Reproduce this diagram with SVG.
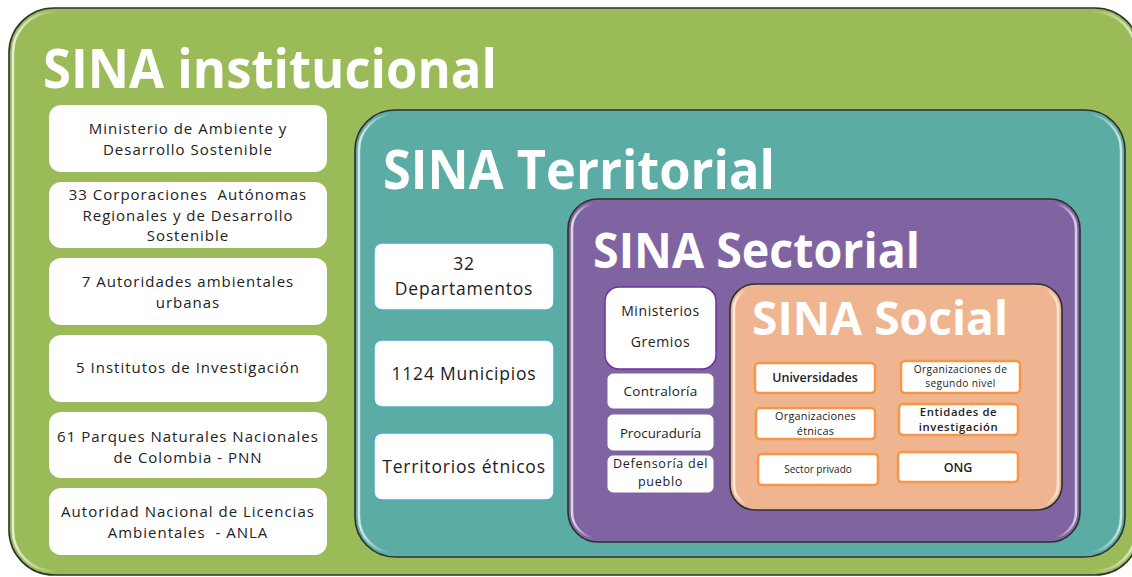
<svg xmlns="http://www.w3.org/2000/svg" width="1132" height="577" viewBox="0 0 1132 577">
<style>
.frame{stroke:#2f2f2f;stroke-width:1.6}
.gloss{fill:none;stroke:url(#gl);stroke-width:2.5}
.title{font-family:"Open Sans","Liberation Sans",sans-serif;font-weight:700;fill:#ffffff}
.t{font-family:"Open Sans","Liberation Sans",sans-serif;fill:#222222;text-anchor:middle}
.li{font-size:15px;letter-spacing:1px}
.lt{font-size:17.5px;letter-spacing:0.8px}
.wb{fill:#ffffff}
.tb{fill:#ffffff;stroke:#4bacc6;stroke-width:1.5}
.pb{fill:#ffffff;stroke:#7030a0;stroke-width:1.5}
.sb{fill:#ffffff;stroke:#ffffff;stroke-width:1}
.ob{fill:#ffffff;stroke:#f79646;stroke-width:2.5}
.sb600{font-weight:600}
</style>
<defs>
<linearGradient id="gl" x1="0" y1="0" x2="1" y2="0">
<stop offset="0" stop-color="#ffffff" stop-opacity="0.75"/>
<stop offset="0.04" stop-color="#ffffff" stop-opacity="0"/>
<stop offset="0.96" stop-color="#ffffff" stop-opacity="0"/>
<stop offset="1" stop-color="#ffffff" stop-opacity="0.7"/>
</linearGradient>
</defs>
<rect width="1132" height="577" fill="#ffffff"/>

<g id="sina-institucional">
<rect class="frame" x="9" y="8" width="1131" height="567" rx="45" fill="#9bbb59"/>
<rect class="gloss" x="13" y="12" width="1123" height="559" rx="41"/>
<text class="title" x="43" y="88" font-size="53" textLength="454" lengthAdjust="spacingAndGlyphs">SINA institucional</text>
</g>

<g id="inst-1"><rect class="wb" x="49" y="105" width="278" height="67" rx="12"/>
<text class="t li" x="188" y="134">Ministerio de Ambiente y</text>
<text class="t li" x="188" y="155">Desarrollo Sostenible</text></g>
<g id="inst-2"><rect class="wb" x="49" y="182" width="278" height="66" rx="12"/>
<text class="t li" x="188" y="200" xml:space="preserve">33 Corporaciones  Autónomas</text>
<text class="t li" x="188" y="220.5">Regionales y de Desarrollo</text>
<text class="t li" x="188" y="241">Sostenible</text></g>
<g id="inst-3"><rect class="wb" x="49" y="258" width="278" height="67" rx="12"/>
<text class="t li" x="188" y="287">7 Autoridades ambientales</text>
<text class="t li" x="188" y="307.5">urbanas</text></g>
<g id="inst-4"><rect class="wb" x="49" y="335" width="278" height="67" rx="12"/>
<text class="t li" x="188" y="373">5 Institutos de Investigación</text></g>
<g id="inst-5"><rect class="wb" x="49" y="412" width="278" height="66" rx="12"/>
<text class="t li" x="188" y="442">61 Parques Naturales Nacionales</text>
<text class="t li" x="188" y="462.5">de Colombia - PNN</text></g>
<g id="inst-6"><rect class="wb" x="49" y="488" width="278" height="67" rx="12"/>
<text class="t li" x="188" y="517">Autoridad Nacional de Licencias</text>
<text class="t li" x="188" y="537.5" xml:space="preserve">Ambientales  - ANLA</text></g>

<g id="sina-territorial">
<rect class="frame" x="355" y="110" width="770" height="447" rx="40" fill="#5aaca4"/>
<rect class="gloss" x="359" y="114" width="762" height="439" rx="36"/>
<text class="title" x="383" y="189" font-size="54" textLength="392" lengthAdjust="spacingAndGlyphs">SINA Territorial</text>
</g>
<g id="terr-1"><rect class="tb" x="374" y="243" width="180" height="67" rx="8"/>
<text class="t lt" x="464" y="270">32</text>
<text class="t lt" x="464" y="294.5">Departamentos</text></g>
<g id="terr-2"><rect class="tb" x="374" y="340" width="180" height="67" rx="8"/>
<text class="t lt" x="464" y="380">1124 Municipios</text></g>
<g id="terr-3"><rect class="tb" x="374" y="433" width="180" height="67" rx="8"/>
<text class="t lt" x="464" y="473">Territorios étnicos</text></g>

<g id="sina-sectorial">
<rect class="frame" x="568" y="199" width="512" height="343" rx="30" fill="#8064a2"/>
<rect class="gloss" x="572" y="203" width="504" height="335" rx="26"/>
<text class="title" x="593" y="268" font-size="49" textLength="327" lengthAdjust="spacingAndGlyphs">SINA Sectorial</text>
</g>
<g id="sect-1"><rect class="pb" x="605" y="287" width="111" height="82" rx="14"/>
<text class="t" x="660.5" y="316" font-size="14" letter-spacing="0.6">Ministerios</text>
<text class="t" x="660.5" y="347" font-size="14" letter-spacing="0.6">Gremios</text></g>
<g id="sect-2"><rect class="sb" x="608" y="374" width="105" height="34" rx="5"/>
<text class="t" x="660.5" y="396" font-size="13.5" letter-spacing="0.3">Contraloría</text></g>
<g id="sect-3"><rect class="sb" x="608" y="415" width="105" height="35" rx="5"/>
<text class="t" x="660.5" y="438" font-size="13.3">Procuraduría</text></g>
<g id="sect-4"><rect class="sb" x="608" y="456" width="105" height="36" rx="5"/>
<text class="t" x="660.5" y="468" font-size="12.6" letter-spacing="0.7">Defensoría del</text>
<text class="t" x="660.5" y="485.5" font-size="12.6" letter-spacing="0.7">pueblo</text></g>

<g id="sina-social">
<rect class="frame" x="730" y="284" width="332" height="226" rx="25" fill="#efb590"/>
<rect class="gloss" x="734" y="288" width="324" height="218" rx="21"/>
<text class="title" x="752" y="335" font-size="46" textLength="256" lengthAdjust="spacingAndGlyphs">SINA Social</text>
</g>
<g id="soc-1"><rect class="ob" x="755" y="363" width="120" height="30" rx="4"/>
<text class="t sb600" x="815" y="382" font-size="12.5">Universidades</text></g>
<g id="soc-2"><rect class="ob" x="901" y="361" width="119" height="32" rx="4"/>
<text class="t" x="960.5" y="373" font-size="10.2" letter-spacing="0.35">Organizaciones de</text>
<text class="t" x="960.5" y="387" font-size="10.2" letter-spacing="0.35">segundo nivel</text></g>
<g id="soc-3"><rect class="ob" x="756" y="408" width="119" height="31" rx="4"/>
<text class="t" x="815.5" y="420" font-size="10.9" letter-spacing="0.2">Organizaciones</text>
<text class="t" x="815.5" y="435" font-size="10.9" letter-spacing="0.2">étnicas</text></g>
<g id="soc-4"><rect class="ob" x="899" y="404" width="119" height="31" rx="4"/>
<text class="t sb600" x="958.5" y="415.5" font-size="11.3" letter-spacing="0.6">Entidades de</text>
<text class="t sb600" x="958.5" y="431" font-size="11.3" letter-spacing="0.6">investigación</text></g>
<g id="soc-5"><rect class="ob" x="758" y="454" width="120" height="31" rx="4"/>
<text class="t" x="818" y="473" font-size="10">Sector privado</text></g>
<g id="soc-6"><rect class="ob" x="898" y="452" width="120" height="30" rx="4"/>
<text class="t sb600" x="958" y="472" font-size="12.5">ONG</text></g>

<g id="connectors"></g>
</svg>
